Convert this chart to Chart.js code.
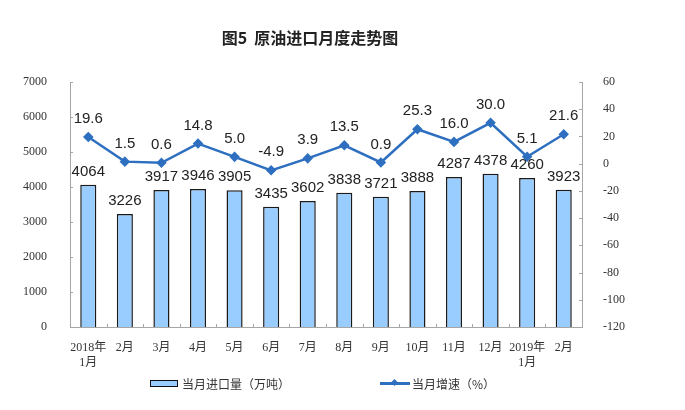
<!DOCTYPE html>
<html>
<head>
<meta charset="utf-8">
<script src="https://cdn.jsdelivr.net/npm/chart.js@4"></script>
<style>
  body { margin: 0; background: #fff; }
  #wrap { position: relative; width: 685px; height: 410px; }
  #chart { position: absolute; left: 0; top: 0; }
  .title {
    position: absolute; left: 0; width: 620px; top: 25px; text-align: center;
    font: bold 16px "Noto Sans CJK SC", sans-serif; color: #222;
  }
  .legend {
    position: absolute; top: 375px; font: 12px "Noto Sans CJK SC", sans-serif; color: #333;
    display: flex; align-items: center; white-space: nowrap;
  }
  .sw-bar { width: 26px; height: 5px; background: #99CCFF; border: 1.5px solid #111; margin-right: 4px; }
  .sw-line { position: relative; width: 30px; height: 2.5px; background: #2E6FC0; margin-right: 2px; }
  .sw-line i {
    position: absolute; left: 12px; top: -2.5px; width: 5px; height: 5px;
    background: #2E6FC0; transform: rotate(45deg);
  }
</style>
</head>
<body>
<div id="wrap">
  <canvas id="chart" width="685" height="410"></canvas>
  <div class="title">图5&nbsp;&nbsp;原油进口月度走势图</div>
  <div class="legend" style="left:150px"><span class="sw-bar"></span>当月进口量（万吨）</div>
  <div class="legend" style="left:380px"><span class="sw-line"><i></i></span>当月增速（%）</div>
</div>
<script>
// Data
const months = [['2018年', '1月'], '2月', '3月', '4月', '5月', '6月', '7月', '8月', '9月', '10月', '11月', '12月', ['2019年', '1月'], '2月'];
const importVolume = [4064, 3226, 3917, 3946, 3905, 3435, 3602, 3838, 3721, 3888, 4287, 4378, 4260, 3923];
const growthRate = [19.6, 1.5, 0.6, 14.8, 5.0, -4.9, 3.9, 13.5, 0.9, 25.3, 16.0, 30.0, 5.1, 21.6];

const axisColor = '#A6A6A6';
const lineBlue = '#2E6FC0';

// value labels above bars and points
const valueLabels = {
    id: 'valueLabels',
    afterDatasetsDraw(chart) {
        const ctx = chart.ctx;
        ctx.save();
        ctx.font = '15px "Liberation Sans", Arial, sans-serif';
        ctx.fillStyle = '#222';
        ctx.textAlign = 'center';
        ctx.textBaseline = 'middle';
        chart.getDatasetMeta(0).data.forEach((bar, i) => {
            ctx.fillText(String(importVolume[i]), bar.x, bar.y - 13);
        });
        chart.getDatasetMeta(1).data.forEach((pt, i) => {
            ctx.fillText(growthRate[i].toFixed(1), pt.x, pt.y - 18);
        });
        ctx.restore();
    }
};

// small tick marks pointing into the plot area
const innerTicks = {
    id: 'innerTicks',
    afterDraw(chart) {
        const ctx = chart.ctx;
        const area = chart.chartArea;
        const y = chart.scales.y, y1 = chart.scales.y1;
        ctx.save();
        ctx.strokeStyle = axisColor;
        ctx.lineWidth = 1;
        ctx.beginPath();
        y.ticks.forEach(t => {
            const py = Math.round(y.getPixelForValue(t.value)) + 0.5;
            ctx.moveTo(area.left, py); ctx.lineTo(area.left + 3, py);
        });
        y1.ticks.forEach(t => {
            const py = Math.round(y1.getPixelForValue(t.value)) + 0.5;
            ctx.moveTo(area.right - 3, py); ctx.lineTo(area.right, py);
        });
        const step = (area.right - area.left) / months.length;
        for (let i = 1; i < months.length; i++) {
            const px = Math.round(area.left + i * step) + 0.5;
            ctx.moveTo(px, area.bottom); ctx.lineTo(px, area.bottom - 3);
        }
        ctx.stroke();
        ctx.restore();
    }
};

const plainNumber = value => String(value);

new Chart(document.getElementById('chart'), {
    data: {
        labels: months,
        datasets: [
            {
                type: 'bar',
                label: '当月进口量（万吨）',
                data: importVolume,
                yAxisID: 'y',
                backgroundColor: '#99CCFF',
                borderColor: '#1a1a1a',
                borderWidth: 1.5,
                categoryPercentage: 1,
                barPercentage: 0.44,
                order: 2
            },
            {
                type: 'line',
                label: '当月增速（%）',
                data: growthRate,
                yAxisID: 'y1',
                borderColor: lineBlue,
                backgroundColor: lineBlue,
                borderWidth: 2.5,
                pointStyle: 'rectRot',
                pointRadius: 3.5,
                pointBackgroundColor: lineBlue,
                pointBorderColor: lineBlue,
                tension: 0,
                order: 1
            }
        ]
    },
    options: {
        responsive: false,
        animation: false,
        layout: { padding: { top: 82, left: 0, right: 0, bottom: 0 } },
        plugins: {
            legend: { display: false },
            tooltip: { enabled: false }
        },
        scales: {
            x: {
                grid: { display: false, offset: true },
                border: { color: axisColor, width: 1 },
                ticks: {
                    color: '#333',
                    padding: 6,
                    maxRotation: 0,
                    autoSkip: false,
                    font: { family: '"Liberation Serif", "Noto Sans CJK SC", serif', size: 12, lineHeight: 1.2 }
                },
                afterFit(scale) { scale.height = 83; }
            },
            y: {
                position: 'left',
                min: 0,
                max: 7000,
                grid: { display: false },
                border: { color: axisColor, width: 1 },
                ticks: {
                    stepSize: 1000,
                    padding: 15,
                    color: '#333',
                    callback: plainNumber,
                    font: { family: '"Liberation Serif", serif', size: 12 }
                },
                afterFit(scale) { scale.width = 70; }
            },
            y1: {
                position: 'right',
                min: -120,
                max: 60,
                grid: { display: false },
                border: { color: axisColor, width: 1 },
                ticks: {
                    stepSize: 20,
                    padding: 13,
                    color: '#333',
                    callback: plainNumber,
                    font: { family: '"Liberation Serif", serif', size: 12 }
                },
                afterFit(scale) { scale.width = 103; }
            }
        }
    },
    plugins: [valueLabels, innerTicks]
});
</script>
</body>
</html>
